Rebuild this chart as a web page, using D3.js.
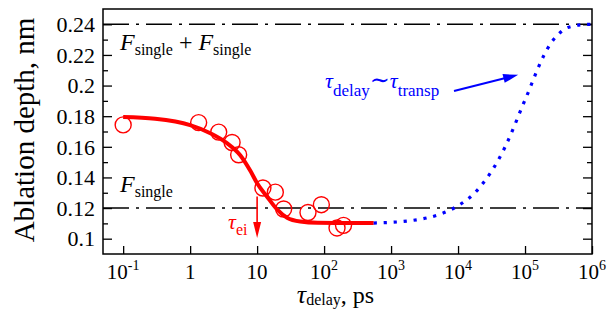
<!DOCTYPE html>
<html>
<head>
<meta charset="utf-8">
<script src="https://cdn.jsdelivr.net/npm/d3@7"></script>
<style>
  body { margin: 0; background: #fff; }
  svg { display: block; }
  svg text, svg tspan { font-family: 'Liberation Serif', 'Times New Roman', Times, 'DejaVu Serif', serif !important; }
</style>
</head>
<body>
<div class="chart"></div>
<script>
// x axis: delay in ps, log scale
const decades = [1e-1, 1, 10, 1e2, 1e3, 1e4, 1e5, 1e6]
const decadeLabels = [['10', '-1'], ['1', ''], ['10', ''], ['10', '2'], ['10', '3'], ['10', '4'], ['10', '5'], ['10', '6']]

// y axis: ablation depth, nm
const depthTicks = [0.1, 0.12, 0.14, 0.16, 0.18, 0.2, 0.22, 0.24]
const depthMinor = [0.11, 0.13, 0.15, 0.17, 0.19, 0.21, 0.23]

// measured points (open circles)
const measDelay = [0.1, 1.34, 2.67, 4.23, 5.3, 12.2, 18.7, 24.9, 57.5, 91, 156, 195]
const measDepth = [0.1743, 0.1758, 0.1696, 0.1628, 0.1548, 0.1331, 0.1304, 0.1194, 0.1171, 0.1222, 0.107, 0.1087]

// red fit curve
const fitDelay = [0.1, 0.3, 1, 2, 3.5, 5.6, 8, 10, 14, 20, 28, 44, 80, 550]
const fitDepth = [0.1794, 0.1783, 0.1742, 0.1689, 0.1626, 0.1545, 0.144, 0.1362, 0.1276, 0.119, 0.1137, 0.1112, 0.1104, 0.1102]

// blue dotted transition curve
const transDelay = [550, 2065, 5460, 1.0e4, 1.72e4, 2.65e4, 3.83e4, 5.22e4, 6.8e4, 8.8e4, 1.14e5, 1.46e5, 1.92e5, 2.42e5, 3.0e5, 3.86e5, 5.26e5, 7.4e5, 1e6]
const transDepth = [0.1102, 0.1119, 0.1161, 0.1215, 0.1293, 0.1391, 0.15, 0.1613, 0.1728, 0.1848, 0.1965, 0.2083, 0.2198, 0.2276, 0.2326, 0.2368, 0.2389, 0.2398, 0.24]

// reference levels
const levelSingle = 0.12
const levelDouble = 0.24
const tauEi = 10

const RED = '#ff0000'
const BLUE = '#0000ff'

const W = 616
const H = 322
const margin = { left: 103, top: 9, right: 24, bottom: 68 }
const w = W - margin.left - margin.right
const h = H - margin.top - margin.bottom

const x = d3.scaleLog().domain([0.05, 1e6]).range([0, w])
const y = d3.scaleLinear().domain([0.09, 0.25]).range([h, 0])

const svg = d3.select('.chart')
  .append('svg')
  .attr('width', W)
  .attr('height', H)

const g = svg.append('g')
  .attr('transform', `translate(${margin.left},${margin.top})`)

// ticks (inward), no domain paths, frame drawn separately
const styleAxis = (sel) => {
  sel.select('.domain').remove()
  sel.selectAll('.tick line').attr('stroke', '#000').attr('stroke-width', 1.3)
  sel.attr('font-family', null).attr('font-size', null)
}

g.append('g')
  .attr('transform', `translate(0,${h})`)
  .call(d3.axisBottom(x).tickValues(decades).tickSize(-8).tickFormat(''))
  .call(styleAxis)

g.append('g')
  .call(d3.axisLeft(y).tickValues(depthTicks).tickSize(-9).tickPadding(8)
    .tickFormat((d) => { return String(+d.toFixed(2)) }))
  .call(styleAxis)
  .selectAll('text')
  .attr('font-size', 22)
  .attr('fill', '#000')
  .attr('dy', '0.33em')

g.append('g')
  .call(d3.axisLeft(y).tickValues(depthMinor).tickSize(-5).tickFormat(''))
  .call(styleAxis)

g.append('g')
  .attr('transform', `translate(${w},0)`)
  .call(d3.axisRight(y).tickValues(depthTicks).tickSize(-9).tickFormat(''))
  .call(styleAxis)

g.append('g')
  .attr('transform', `translate(${w},0)`)
  .call(d3.axisRight(y).tickValues(depthMinor).tickSize(-5).tickFormat(''))
  .call(styleAxis)

// x tick labels with superscripts
const xLab = g.append('g')
  .selectAll('text')
  .data(decades)
  .enter()
  .append('text')
  .attr('x', (d) => { return x(d) })
  .attr('y', h + 25)
  .attr('text-anchor', 'middle')
  .attr('font-size', 21)

xLab.append('tspan').text((d, i) => { return decadeLabels[i][0] })
xLab.append('tspan')
  .attr('font-size', 14)
  .attr('dy', -9)
  .text((d, i) => { return decadeLabels[i][1] })

// reference dash-dot levels
g.selectAll('.level')
  .data([levelDouble, levelSingle])
  .enter()
  .append('line')
  .attr('x1', 0)
  .attr('x2', w)
  .attr('y1', (d) => { return y(d) })
  .attr('y2', (d) => { return y(d) })
  .attr('stroke', '#000')
  .attr('stroke-width', 1.4)
  .attr('stroke-dasharray', '26,7,3,7')

// fit curve
const line = d3.line()
  .x((d) => { return x(d[0]) })
  .y((d) => { return y(d[1]) })
  .curve(d3.curveMonotoneX)

g.append('path')
  .datum(d3.zip(fitDelay, fitDepth))
  .attr('d', line)
  .attr('fill', 'none')
  .attr('stroke', RED)
  .attr('stroke-width', 4)

g.append('path')
  .datum(d3.zip(transDelay, transDepth))
  .attr('d', line)
  .attr('fill', 'none')
  .attr('stroke', BLUE)
  .attr('stroke-width', 3.2)
  .attr('stroke-dasharray', '3.2,6.8')

// measured circles
g.selectAll('.meas')
  .data(d3.zip(measDelay, measDepth))
  .enter()
  .append('circle')
  .attr('cx', (d) => { return x(d[0]) })
  .attr('cy', (d) => { return y(d[1]) })
  .attr('r', 8)
  .attr('fill', 'none')
  .attr('stroke', RED)
  .attr('stroke-width', 1.4)

// arrows
function arrow (x1, y1, x2, y2, len, half, color, lw) {
  const a = Math.atan2(y2 - y1, x2 - x1)
  const bx = x2 - len * Math.cos(a)
  const by = y2 - len * Math.sin(a)
  g.append('line')
    .attr('x1', x1).attr('y1', y1)
    .attr('x2', bx + 2 * Math.cos(a)).attr('y2', by + 2 * Math.sin(a))
    .attr('stroke', color)
    .attr('stroke-width', lw)
  const px = -Math.sin(a) * half
  const py = Math.cos(a) * half
  g.append('path')
    .attr('d', `M${x2},${y2}L${bx + px},${by + py}L${bx - px},${by - py}Z`)
    .attr('fill', color)
}

arrow(x(tauEi), y(0.1276), x(tauEi), y(0.1004), 16, 4, RED, 1.6)
arrow(x(8.7e3), y(0.1965), x(7.9e4), y(0.207), 15, 4.5, BLUE, 2)

// annotation texts
function subText (tx, ty, parts, color) {
  const t = g.append('text')
    .attr('x', tx)
    .attr('y', ty)
    .attr('fill', color)
  let shift = 0
  parts.forEach((p) => {
    const s = t.append('tspan')
      .attr('font-size', p.size)
      .attr('dy', p.dy - shift)
      .text(p.text)
    if (p.italic) s.attr('font-style', 'italic')
    shift = p.dy
  })
  return t
}

subText(17, 41, [
  { text: 'F', size: 24, italic: true, dy: 0 },
  { text: 'single', size: 16, dy: 5 },
  { text: ' + ', size: 24, dy: 0 },
  { text: 'F', size: 24, italic: true, dy: 0 },
  { text: 'single', size: 16, dy: 5 }
], '#000')

subText(17, 183, [
  { text: 'F', size: 24, italic: true, dy: 0 },
  { text: 'single', size: 16, dy: 5 }
], '#000')

subText(125, 219.5, [
  { text: 'τ', size: 22, italic: true, dy: 0 },
  { text: 'ei', size: 16, dy: 6.5 }
], RED)

subText(222, 78.5, [
  { text: 'τ', size: 22, italic: true, dy: 0 },
  { text: 'delay', size: 17, dy: 8.5 },
  { text: '∼', size: 24, dy: 0 },
  { text: 'τ', size: 22, italic: true, dy: 0 },
  { text: 'transp', size: 17, dy: 8.5 }
], BLUE)

// frame
g.append('rect')
  .attr('width', w)
  .attr('height', h)
  .attr('fill', 'none')
  .attr('stroke', '#000')
  .attr('stroke-width', 1.5)

// axis titles
svg.append('text')
  .attr('transform', `translate(34,130) rotate(-90)`)
  .attr('text-anchor', 'middle')
  .attr('font-size', 29)
  .text('Ablation depth, nm')

subText(w / 2 - 12, h + 49, [
  { text: 'τ', size: 26, italic: true, dy: 0 },
  { text: 'delay', size: 16, dy: 2 },
  { text: ', ps', size: 24, dy: 0 }
], '#000').attr('text-anchor', 'middle')
</script>
</body>
</html>
